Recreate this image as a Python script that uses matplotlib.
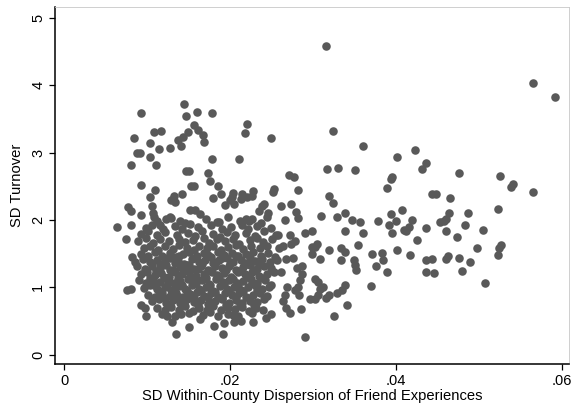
import matplotlib
matplotlib.use("Agg")
import matplotlib.pyplot as plt
import numpy as np

plt.rcParams['font.family'] = ['Liberation Sans', 'DejaVu Sans']

# points, (dispersion, turnover)
right_pts = [
    (.0316, 4.58), (.0565, 4.03), (.0592, 3.83), (.0324, 3.32), (.0360, 3.09),
    (.0423, 3.04), (.0401, 2.94), (.0436, 2.84), (.0432, 2.75), (.0317, 2.75),
    (.0330, 2.77), (.0351, 2.74), (.0476, 2.69), (.0526, 2.65), (.0541, 2.54),
    (.0539, 2.49), (.0565, 2.41), (.0396, 2.64), (.0394, 2.60), (.0389, 2.47),
    (.0444, 2.39), (.0449, 2.39), (.0465, 2.33), (.0320, 2.35), (.0324, 2.25),
    (.0523, 2.16), (.0408, 2.15), (.0464, 2.11), (.0487, 2.11), (.0339, 2.10),
    (.0394, 2.09), (.0310, 2.06), (.0329, 2.04), (.0347, 2.00), (.0400, 1.99),
    (.0420, 2.00), (.0357, 1.97), (.0379, 1.98), (.0453, 1.97), (.0458, 1.98),
    (.0461, 2.01), (.0392, 1.92), (.0484, 1.92), (.0416, 1.89), (.0410, 1.85),
    (.0437, 1.88), (.0505, 1.85), (.0412, 1.83), (.0339, 1.84), (.0361, 1.81),
    (.0395, 1.80), (.0461, 1.83), (.0299, 1.84), (.0290, 1.81), (.0474, 1.74),
    (.0425, 1.70), (.0355, 1.63), (.0305, 1.65), (.0302, 1.60), (.0299, 1.60),
    (.0527, 1.63), (.0525, 1.59), (.0498, 1.59), (.0319, 1.55), (.0402, 1.55),
    (.0334, 1.59), (.0339, 1.52), (.0299, 1.50), (.0371, 1.49), (.0383, 1.51),
    (.0417, 1.48), (.0523, 1.48), (.0349, 1.41), (.0308, 1.42), (.0334, 1.40),
    (.0385, 1.40), (.0463, 1.47), (.0461, 1.42), (.0476, 1.43), (.0444, 1.42),
    (.0437, 1.40), (.0351, 1.33), (.0376, 1.32), (.0352, 1.26), (.0490, 1.38),
    (.0389, 1.23), (.0436, 1.23), (.0446, 1.21), (.0480, 1.24), (.0508, 1.07),
    (.0370, 1.02), (.0339, 1.03), (.0302, 1.12), (.0306, 1.08), (.0312, 1.00),
    (.0309, 0.98), (.0320, 0.89), (.0329, 0.92), (.0335, 0.96), (.0316, 0.84),
    (.0303, 0.82), (.0297, 0.82), (.0306, 0.88), (.0341, 0.74), (.0325, 0.57),
    (.0290, 0.26), (.0286, 0.68),
]

mid_pts = [
    (.0250, 3.21), (.0211, 2.91), (.0220, 3.43), (.0218, 3.29), (.0271, 2.67),
    (.0277, 2.63), (.0282, 2.45), (.0253, 2.46), (.0252, 2.42), (.0228, 2.43),
    (.0226, 2.35), (.0262, 2.20), (.0274, 2.23), (.0280, 2.12), (.0282, 2.03),
    (.0266, 2.00), (.0272, 1.78), (.0258, 1.77), (.0278, 1.69), (.0274, 1.64),
    (.0264, 1.61), (.0268, 1.42), (.0276, 1.44), (.0287, 1.32), (.0281, 1.29),
    (.0262, 1.22), (.0287, 1.20), (.0284, 1.11), (.0282, 1.01), (.0269, 1.00),
    (.0278, 0.96), (.0266, 0.88), (.0264, 0.80), (.0268, 0.70), (.0272, 0.62),
    (.0283, 0.89),
]

left_pts = [
    (.0063, 1.89), (.0075, 1.72), (.0077, 2.19), (.0080, 2.13), (.0081, 1.93),
    (.0076, 0.96), (.0080, 0.98), (.0082, 1.45), (.0092, 3.58), (.0084, 3.21),
    (.0088, 3.00), (.0091, 3.00), (.0080, 2.82), (.0092, 2.52), (.0092, 2.07),
    (.0103, 3.14), (.0108, 3.31), (.0117, 3.32), (.0103, 2.93), (.0111, 2.82),
    (.0114, 3.05), (.0127, 3.06), (.0109, 2.45), (.0104, 2.34), (.0145, 3.72),
    (.0147, 3.54), (.0160, 3.60), (.0178, 3.59), (.0156, 3.41), (.0149, 3.31),
    (.0161, 3.33), (.0167, 3.26), (.0169, 3.16), (.0137, 3.18), (.0141, 3.10),
    (.0143, 3.23), (.0178, 2.91), (.0147, 2.73), (.0151, 2.73), (.0173, 2.69),
    (.0176, 2.58), (.0153, 2.50), (.0156, 2.50), (.0142, 2.39), (.0132, 2.36),
    (.0134, 2.26), (.0129, 2.29), (.0179, 2.33), (.0186, 2.50), (.0189, 2.39),
    (.0204, 2.40), (.0202, 2.34), (.0200, 2.29), (.0215, 2.38), (.0213, 2.31),
    (.0194, 2.22), (.0205, 2.24), (.0221, 2.34), (.0241, 2.23), (.0238, 2.20),
    (.0246, 2.10), (.0235, 2.13), (.0152, 2.15), (.0158, 2.15), (.0164, 2.09),
    (.0140, 1.98), (.0128, 2.05), (.0123, 2.01), (.0106, 2.20), (.0107, 2.11),
    (.0108, 2.05), (.0116, 1.92), (.0219, 2.02), (.0223, 1.99), (.0184, 1.97),
]

bottom_pts = [
    (.0135, 0.30), (.0191, 0.30), (.0181, 0.42), (.0193, 0.47), (.0205, 0.48),
    (.0228, 0.48), (.0213, 0.50), (.0150, 0.41), (.0130, 0.48), (.0124, 0.57),
    (.0098, 0.58), (.0093, 0.74), (.0097, 0.70), (.0141, 0.60), (.0164, 0.53),
    (.0243, 0.55), (.0249, 0.61), (.0203, 0.59),
]

# the dense core, too packed to read one by one
core_pts = [
    (.0112, 1.98), (.0129, 2.03), (.0146, 1.96), (.0171, 2.01), (.0187, 1.97),
    (.0197, 2.04), (.0212, 1.99), (.0226, 2.02), (.0237, 1.95), (.0245, 2.05),
    (.0098, 1.88), (.0106, 1.93), (.0119, 1.86), (.0133, 1.91), (.0142, 1.87),
    (.0152, 1.94), (.0161, 1.89), (.0177, 1.92), (.0190, 1.86), (.0201, 1.90),
    (.0214, 1.93), (.0222, 1.87), (.0233, 1.91), (.0249, 1.88),
    (.0093, 1.79), (.0101, 1.83), (.0112, 1.77), (.0122, 1.82), (.0136, 1.78),
    (.0149, 1.81), (.0158, 1.76), (.0166, 1.83), (.0180, 1.79), (.0188, 1.74),
    (.0196, 1.82), (.0206, 1.77), (.0219, 1.80), (.0230, 1.76), (.0241, 1.83),
    (.0256, 1.78),
    (.0089, 1.69), (.0099, 1.73), (.0107, 1.66), (.0116, 1.71), (.0126, 1.68),
    (.0138, 1.72), (.0146, 1.67), (.0155, 1.70), (.0168, 1.73), (.0175, 1.66),
    (.0184, 1.71), (.0194, 1.68), (.0203, 1.72), (.0211, 1.65), (.0224, 1.70),
    (.0232, 1.73), (.0240, 1.67), (.0251, 1.71),
    (.0096, 1.58), (.0104, 1.62), (.0113, 1.56), (.0121, 1.61), (.0131, 1.57),
    (.0139, 1.63), (.0148, 1.59), (.0157, 1.55), (.0163, 1.62), (.0172, 1.58),
    (.0180, 1.61), (.0189, 1.56), (.0198, 1.60), (.0207, 1.63), (.0216, 1.57),
    (.0225, 1.61), (.0236, 1.58), (.0244, 1.62), (.0259, 1.59),
    (.0092, 1.49), (.0101, 1.46), (.0110, 1.52), (.0118, 1.47), (.0127, 1.51),
    (.0135, 1.45), (.0143, 1.50), (.0151, 1.53), (.0160, 1.47), (.0168, 1.51),
    (.0177, 1.45), (.0185, 1.52), (.0193, 1.48), (.0202, 1.51), (.0210, 1.46),
    (.0219, 1.50), (.0228, 1.53), (.0237, 1.47), (.0246, 1.51), (.0254, 1.45),
    (.0085, 1.38), (.0095, 1.42), (.0103, 1.37), (.0112, 1.41), (.0120, 1.36),
    (.0128, 1.43), (.0137, 1.39), (.0145, 1.35), (.0154, 1.42), (.0162, 1.38),
    (.0170, 1.41), (.0179, 1.36), (.0187, 1.40), (.0196, 1.43), (.0204, 1.37),
    (.0213, 1.41), (.0221, 1.35), (.0230, 1.39), (.0239, 1.42), (.0248, 1.37),
    (.0257, 1.40),
    (.0088, 1.31), (.0097, 1.27), (.0106, 1.32), (.0115, 1.28), (.0123, 1.33),
    (.0131, 1.26), (.0140, 1.30), (.0148, 1.33), (.0156, 1.27), (.0165, 1.31),
    (.0173, 1.25), (.0182, 1.32), (.0190, 1.28), (.0199, 1.31), (.0207, 1.26),
    (.0216, 1.30), (.0224, 1.33), (.0233, 1.27), (.0241, 1.31), (.0250, 1.28),
    (.0092, 1.19), (.0100, 1.23), (.0109, 1.18), (.0117, 1.21), (.0126, 1.16),
    (.0134, 1.22), (.0142, 1.19), (.0151, 1.23), (.0159, 1.17), (.0168, 1.20),
    (.0176, 1.24), (.0184, 1.18), (.0193, 1.21), (.0201, 1.16), (.0210, 1.22),
    (.0218, 1.19), (.0227, 1.23), (.0235, 1.17), (.0244, 1.20), (.0253, 1.22),
    (.0090, 1.11), (.0098, 1.07), (.0107, 1.12), (.0115, 1.08), (.0124, 1.13),
    (.0132, 1.06), (.0140, 1.10), (.0149, 1.13), (.0157, 1.07), (.0166, 1.11),
    (.0174, 1.05), (.0183, 1.12), (.0191, 1.08), (.0199, 1.11), (.0208, 1.06),
    (.0216, 1.10), (.0225, 1.13), (.0233, 1.07), (.0242, 1.11), (.0249, 1.04),
    (.0096, 0.99), (.0104, 1.03), (.0112, 0.97), (.0121, 1.01), (.0129, 0.96),
    (.0138, 1.02), (.0146, 0.98), (.0154, 1.03), (.0163, 0.97), (.0171, 1.00),
    (.0179, 0.95), (.0188, 1.02), (.0196, 0.98), (.0205, 1.01), (.0213, 0.96),
    (.0222, 1.00), (.0230, 1.03), (.0239, 0.97), (.0247, 1.01),
    (.0101, 0.89), (.0110, 0.86), (.0118, 0.91), (.0127, 0.87), (.0135, 0.92),
    (.0143, 0.85), (.0152, 0.90), (.0160, 0.93), (.0169, 0.87), (.0177, 0.91),
    (.0185, 0.86), (.0194, 0.92), (.0202, 0.88), (.0211, 0.91), (.0219, 0.85),
    (.0228, 0.89), (.0236, 0.92), (.0245, 0.87),
    (.0106, 0.79), (.0114, 0.82), (.0123, 0.77), (.0131, 0.81), (.0140, 0.76),
    (.0148, 0.82), (.0157, 0.78), (.0165, 0.81), (.0173, 0.75), (.0182, 0.80),
    (.0190, 0.83), (.0199, 0.77), (.0207, 0.81), (.0215, 0.76), (.0224, 0.80),
    (.0232, 0.78), (.0241, 0.82),
    (.0112, 0.69), (.0121, 0.66), (.0129, 0.71), (.0138, 0.67), (.0146, 0.72),
    (.0155, 0.65), (.0163, 0.70), (.0172, 0.67), (.0180, 0.72), (.0189, 0.66),
    (.0197, 0.70), (.0206, 0.68), (.0214, 0.71), (.0223, 0.65), (.0231, 0.69),
    (.0240, 0.67),
    (.0118, 0.61), (.0134, 0.58), (.0150, 0.62), (.0167, 0.59), (.0176, 0.63),
    (.0185, 0.57), (.0198, 0.61), (.0210, 0.58), (.0227, 0.62),
]

# more of the core, in between the rows above
core_fill_pts = [
    (.0124, 1.44), (.0139, 1.47), (.0157, 1.44), (.0173, 1.48), (.0190, 1.44),
    (.0207, 1.47), (.0224, 1.43),
    (.0116, 1.34), (.0133, 1.36), (.0150, 1.33), (.0166, 1.35), (.0183, 1.37),
    (.0200, 1.34), (.0218, 1.36), (.0235, 1.34),
    (.0111, 1.24), (.0128, 1.26), (.0145, 1.24), (.0161, 1.27), (.0178, 1.23),
    (.0195, 1.26), (.0212, 1.24), (.0229, 1.26),
    (.0104, 1.14), (.0120, 1.16), (.0137, 1.14), (.0154, 1.16), (.0171, 1.14),
    (.0187, 1.15), (.0204, 1.13), (.0221, 1.16), (.0238, 1.14),
    (.0108, 1.04), (.0125, 1.06), (.0142, 1.04), (.0159, 1.06), (.0176, 1.03),
    (.0193, 1.05), (.0210, 1.04), (.0227, 1.06),
    (.0114, 0.94), (.0131, 0.96), (.0148, 0.94), (.0165, 0.95), (.0182, 0.93),
    (.0199, 0.95), (.0216, 0.94), (.0233, 0.96),
    (.0122, 0.84), (.0139, 0.86), (.0156, 0.84), (.0173, 0.85), (.0190, 0.84),
    (.0207, 0.86), (.0224, 0.84),
    (.0127, 0.74), (.0144, 0.76), (.0161, 0.74), (.0178, 0.76), (.0195, 0.74),
    (.0212, 0.75), (.0229, 0.74),
]

x_ticks = [0, .02, .04, .06]
x_tick_labels = ['0', '.02', '.04', '.06']
y_ticks = [0, 1, 2, 3, 4, 5]

pts = np.array(right_pts + mid_pts + left_pts + bottom_pts + core_pts + core_fill_pts)

fig = plt.figure(figsize=(5.78, 4.07), dpi=100)
ax = fig.add_axes([0.0952, 0.1057, 0.8892, 0.8771])
ax.scatter(pts[:, 0], pts[:, 1], s=38, color='#595959', linewidths=0)

ax.set_xlim(-0.00112, 0.0609)
ax.set_ylim(-0.138, 5.16)
ax.set_xticks(x_ticks)
ax.set_xticklabels(x_tick_labels)
ax.set_yticks(y_ticks)
ax.set_yticklabels([str(v) for v in y_ticks], rotation=90, va='center')
ax.tick_params(direction='out', length=4, width=0.9, labelsize=10.5, pad=3)

for side in ['top', 'right']:
    ax.spines[side].set_color('#c8c8c8')
    ax.spines[side].set_linewidth(0.6)
for side in ['left', 'bottom']:
    ax.spines[side].set_color('black')
    ax.spines[side].set_linewidth(1.1)

ax.set_xlabel('SD Within-County Dispersion of Friend Experiences', fontsize=10.6, labelpad=1)
ax.set_ylabel('SD Turnover', fontsize=10.6, labelpad=5)

fig.savefig('out.png', dpi=100)
